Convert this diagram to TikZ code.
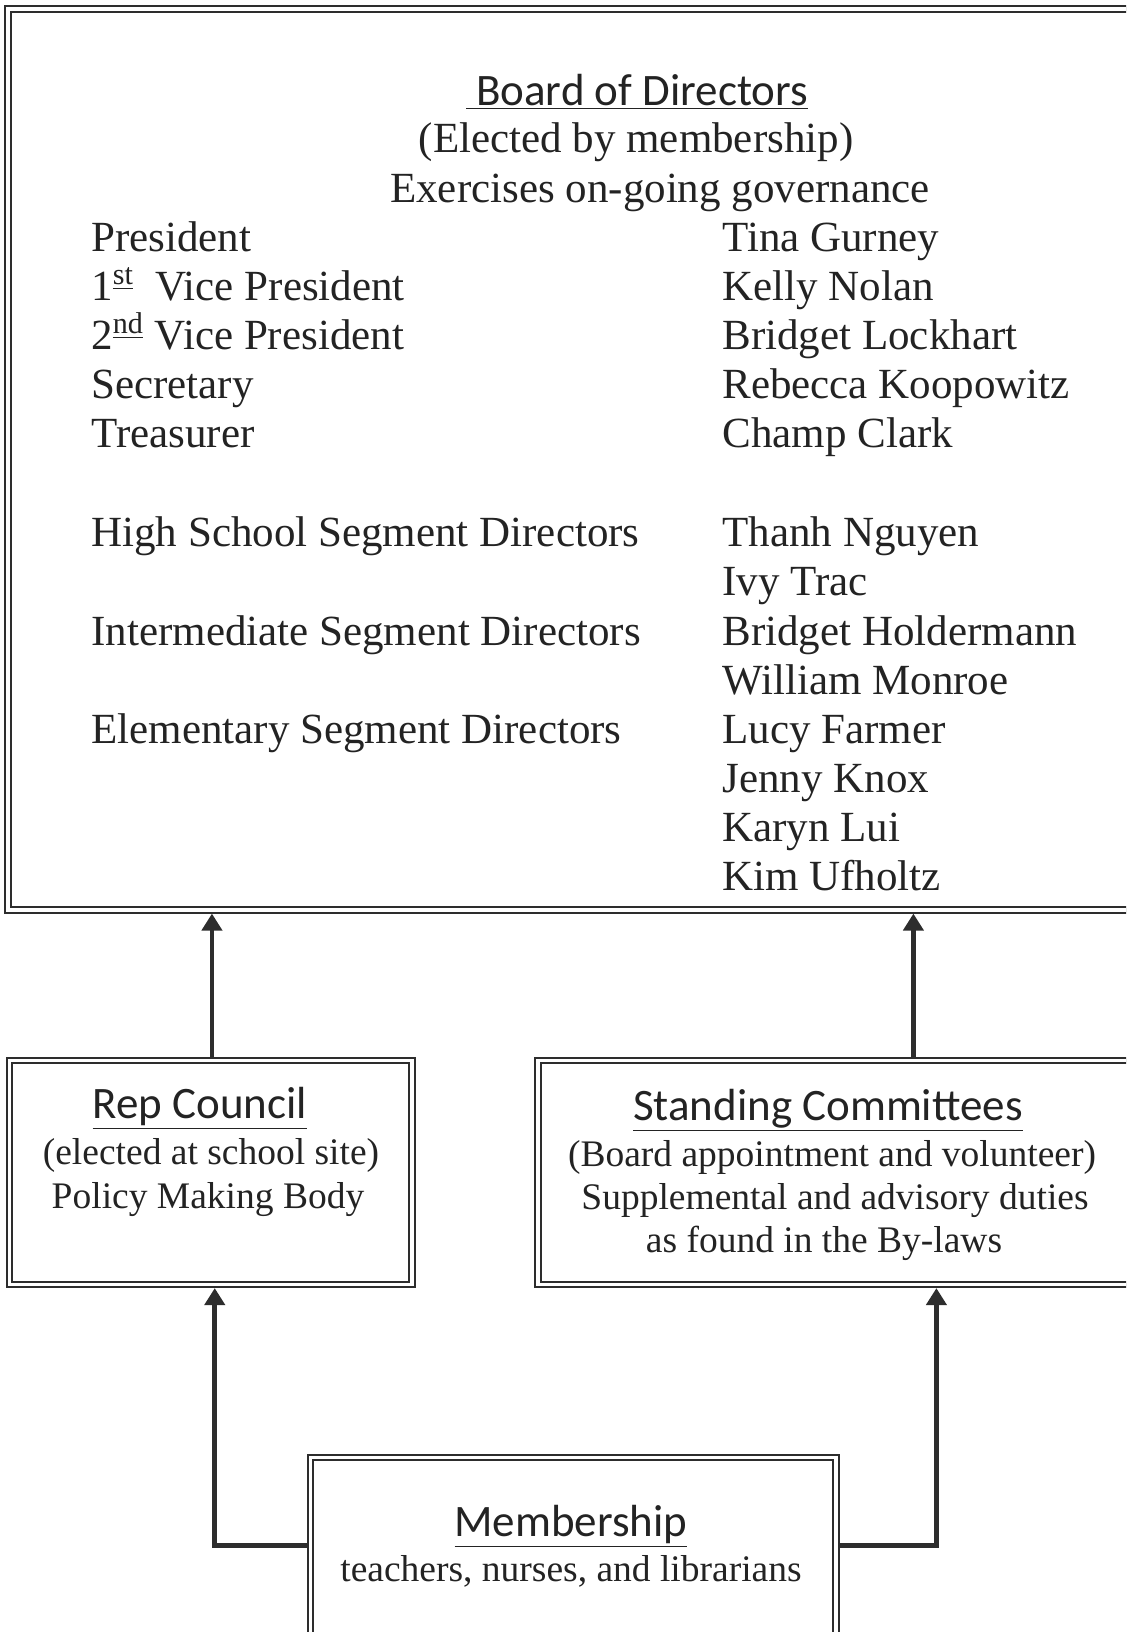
\documentclass[tikz,border=0pt]{standalone}
\usepackage{fontspec}
\setmainfont{Liberation Serif}
\newfontfamily\headfont{Carlito}
\usetikzlibrary{arrows.meta}
\definecolor{ink}{RGB}{35,35,35}
\definecolor{lineink}{RGB}{45,45,45}
\tikzset{
  dbox/.style={draw=lineink, double=white, double distance=1.6pt, line width=1pt, rectangle, inner sep=0pt, outer sep=1.8pt},
  arr/.style={draw=lineink, line width=2.4pt, -{Triangle[length=8.5pt,width=10pt]}},
  body/.style={text=ink, font=\fontsize{21.5pt}{25pt}\selectfont, inner sep=0pt, anchor=base west},
  bodyc/.style={text=ink, font=\fontsize{21.5pt}{25pt}\selectfont, inner sep=0pt, anchor=base},
  small/.style={text=ink, font=\fontsize{18.75pt}{22pt}\selectfont, inner sep=0pt, anchor=base},
  head/.style={text=ink, font=\headfont\fontsize{22.5pt}{26pt}\selectfont, inner sep=0pt, anchor=base}
}
\begin{document}
\begin{tikzpicture}[x=0.5pt,y=-0.5pt]
\clip (0,0) rectangle (1126,1632);
\fill[white] (0,0) rectangle (1126,1632);
% boxes
\node[dbox, minimum width=566pt, minimum height=450.5pt] (board) at (574,459.5) {};
\node[dbox, minimum width=201.25pt, minimum height=112pt] (rep) at (210.75,1172.5) {};
\node[dbox, minimum width=301pt, minimum height=112pt] (standing) at (839,1172.5) {};
\node[dbox, minimum width=262.75pt, minimum height=93.75pt] (mem) at (573.25,1551.25) {};
% board text
\node[head] (bt) at (637,105) {\underline{\ Board of Directors}};
\node[bodyc] (be) at (636,152) {(Elected by membership)};
\node[bodyc] (bx) at (660,202) {Exercises on-going governance};
\node[body] (l1) at (91,251) {President};
\node[body] (l2) at (91,300) {1\textsuperscript{\underline{st}}\ \ Vice President};
\node[body] (l3) at (91,349) {2\textsuperscript{\underline{nd}} Vice President};
\node[body] (l4) at (91,398) {Secretary};
\node[body] (l5) at (91,447) {Treasurer};
\node[body] (l6) at (91,546) {High School Segment Directors};
\node[body] (l7) at (91,645) {Intermediate Segment Directors};
\node[body] (l8) at (91,743) {Elementary Segment Directors};
\node[body] (r1) at (722,251) {Tina Gurney};
\node[body] (r2) at (722,300) {Kelly Nolan};
\node[body] (r3) at (722,349) {Bridget Lockhart};
\node[body] (r4) at (722,398) {Rebecca Koopowitz};
\node[body] (r5) at (722,447) {Champ Clark};
\node[body] (r6) at (722,546) {Thanh Nguyen};
\node[body] (r7) at (722,595) {Ivy Trac};
\node[body] (r8) at (722,645) {Bridget Holdermann};
\node[body] (r9) at (722,694) {William Monroe};
\node[body] (r10) at (722,743) {Lucy Farmer};
\node[body] (r11) at (722,792) {Jenny Knox};
\node[body] (r12) at (722,841) {Karyn Lui};
\node[body] (r13) at (722,890) {Kim Ufholtz};
% rep council text
\node[head] (rt) at (200,1118) {\underline{Rep Council}};
\node[small] (r2t) at (211,1164) {(elected at school site)};
\node[small] (r3t) at (208,1208) {Policy Making Body};
% standing committees text
\node[head] (st) at (828,1120) {\underline{Standing Committees}};
\node[small] (s2) at (832,1166) {(Board appointment and volunteer)};
\node[small] (s3) at (835,1209) {Supplemental and advisory duties};
\node[small] (s4) at (824,1252) {as found in the By-laws};
% membership text
\node[head] (mt) at (571,1536) {\underline{Membership}};
\node[small] (m2) at (571,1581) {teachers, nurses, and librarians};
% connectors
\draw[arr] ([xshift=0.6pt]rep.north) -- ([xshift=0.6pt]rep.north |- board.south);
\draw[arr] ([xshift=189.5pt]standing.north west) -- ([xshift=189.5pt]standing.north west |- board.south);
\draw[arr] ([yshift=3pt]mem.west) -| ([xshift=2pt]rep.south);
\draw[arr] ([yshift=3pt]mem.east) -| ([xshift=201pt]standing.south west);
\end{tikzpicture}
\end{document}
